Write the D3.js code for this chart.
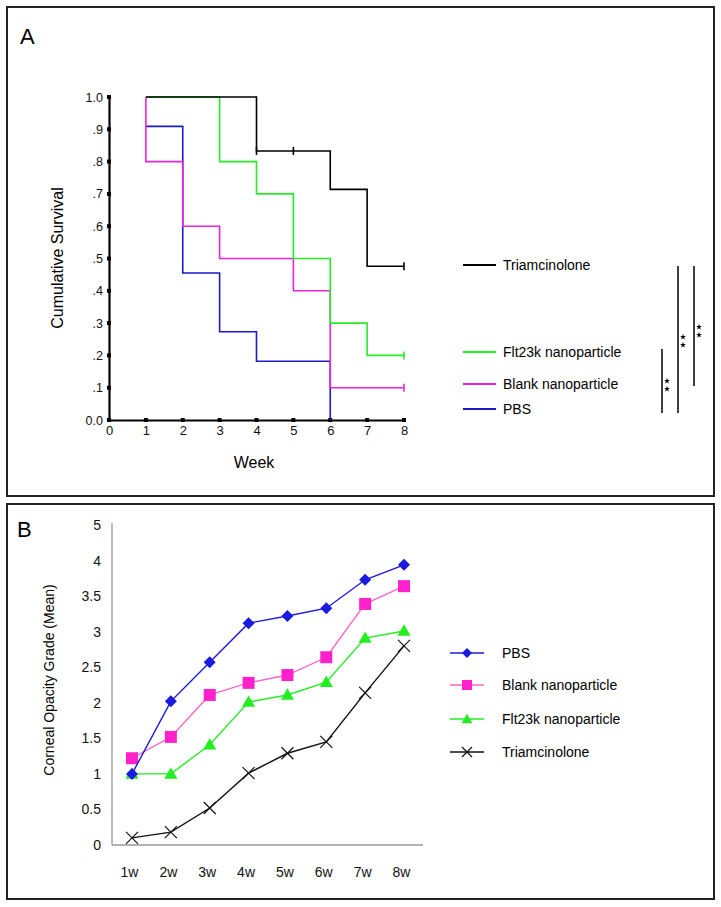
<!DOCTYPE html>
<html><head><meta charset="utf-8">
<script src="https://cdn.jsdelivr.net/npm/d3@7/dist/d3.min.js"></script>
<style>body{margin:0;background:#fff}svg{display:block;font-family:"Liberation Sans",Arial,sans-serif}</style>
</head><body>
<script>
// ---------- Panel A data (Kaplan-Meier steps: [week, survival]) ----------
const kmWeeks = [0,1,2,3,4,5,6,7,8];
const kmYTicks = [0,0.1,0.2,0.3,0.4,0.5,0.6,0.7,0.8,0.9,1.0];
const kmYLabels = ["0.0",".1",".2",".3",".4",".5",".6",".7",".8",".9","1.0"];
const kmTriamcinolone = [[1,1.0],[4,0.833],[6,0.714],[7,0.476],[8,0.476]];
const kmFlt23k = [[1,1.0],[3,0.8],[4,0.7],[5,0.5],[6,0.3],[7,0.2],[8,0.2]];
const kmBlank = [[1,1.0],[1,0.8],[2,0.6],[3,0.5],[5,0.4],[6,0.1],[8,0.1]];
const kmPBS = [[1,0.909],[2,0.455],[3,0.273],[4,0.182],[6,0.0]];
const censorTriam = [[4,0.833],[5,0.833],[8,0.476]];
const censorFlt = [[8,0.2]];
const censorBlank = [[8,0.1]];

// ---------- Panel B data ----------
const weeks = ["1w","2w","3w","4w","5w","6w","7w","8w"];
const opPBS = [1.0,2.02,2.57,3.12,3.22,3.33,3.73,3.94];
const opBlank = [1.22,1.52,2.11,2.28,2.39,2.64,3.39,3.64];
const opFlt = [1.0,1.0,1.41,2.01,2.11,2.29,2.91,3.01];
const opTriam = [0.1,0.18,0.52,1.01,1.29,1.45,2.14,2.80];
const opYTicks = [0,0.5,1,1.5,2,2.5,3,3.5,4,4.5];
const opYLabels = ["0","0.5","1","1.5","2","2.5","3","3.5","4","5"];

const svg = d3.select("body").append("svg").attr("width",721).attr("height",907);

// frames
svg.append("rect").attr("x",7).attr("y",7).attr("width",707).attr("height",489)
  .attr("fill","none").attr("stroke","#222").attr("stroke-width",2);
svg.append("rect").attr("x",7).attr("y",504).attr("width",707).attr("height",395)
  .attr("fill","none").attr("stroke","#222").attr("stroke-width",2);

// ================= Panel A =================
const gA = svg.append("g");
gA.append("text").attr("x",20).attr("y",44).attr("font-size",22).text("A");
const xA = d3.scaleLinear().domain([0,8]).range([109,404]);
const yA = d3.scaleLinear().domain([0,1]).range([420,97]);

const axA = d3.axisBottom(xA).tickValues(kmWeeks).tickFormat(d3.format("d")).tickSize(0).tickPadding(6);
const axAg = gA.append("g").attr("transform","translate(0,420)").call(axA);
axAg.select(".domain").attr("stroke","#000").attr("stroke-width",2.2);
axAg.selectAll("text").attr("font-size",13).attr("font-family","Liberation Sans, Arial").attr("fill","#111");
const ayA = d3.axisLeft(yA).tickValues(kmYTicks).tickFormat((d,i)=>kmYLabels[i]).tickSize(0).tickPadding(6);
const ayAg = gA.append("g").attr("transform","translate(109,0)").call(ayA);
ayAg.select(".domain").attr("stroke","#000").attr("stroke-width",2.2);
ayAg.selectAll("text").attr("font-size",12.5).attr("font-family","Liberation Sans, Arial").attr("fill","#111");
// square tick marks
gA.selectAll("rect.xt").data(kmWeeks).join("rect").attr("x",d=>xA(d)-2).attr("y",418).attr("width",4).attr("height",4).attr("fill","#000");
gA.selectAll("rect.yt").data(kmYTicks).join("rect").attr("x",107).attr("y",d=>yA(d)-2).attr("width",4).attr("height",4).attr("fill","#000");

gA.append("text").attr("x",254).attr("y",468).attr("text-anchor","middle").attr("font-size",16).text("Week");
gA.append("text").attr("transform","translate(63,258) rotate(-90)").attr("text-anchor","middle").attr("font-size",16).text("Cumulative Survival");

const step = d3.line().x(d=>xA(d[0])).y(d=>yA(d[1])).curve(d3.curveStepAfter);
const kmSeries = [
  {d:kmPBS,c:"#1a1ac8"},
  {d:kmBlank,c:"#ee22dd"},
  {d:kmFlt23k,c:"#22ee22"},
  {d:kmTriamcinolone,c:"#000"}
];
kmSeries.forEach(s=>{
  gA.append("path").attr("d",step(s.d)).attr("fill","none").attr("stroke",s.c).attr("stroke-width",1.6);
});
[[censorTriam,"#000"],[censorFlt,"#22ee22"],[censorBlank,"#ee22dd"]].forEach(([pts,c])=>{
  gA.selectAll(null).data(pts).join("line")
    .attr("x1",d=>xA(d[0])).attr("x2",d=>xA(d[0]))
    .attr("y1",d=>yA(d[1])-4).attr("y2",d=>yA(d[1])+4)
    .attr("stroke",c).attr("stroke-width",1.6);
});

// legend A
const legA = [
  {n:"Triamcinolone",c:"#000",y:265},
  {n:"Flt23k nanoparticle",c:"#22ee22",y:352},
  {n:"Blank nanoparticle",c:"#ee22dd",y:384},
  {n:"PBS",c:"#1a1ac8",y:409}
];
legA.forEach(l=>{
  gA.append("line").attr("x1",463).attr("x2",496).attr("y1",l.y).attr("y2",l.y).attr("stroke",l.c).attr("stroke-width",2.2);
  gA.append("text").attr("x",503).attr("y",l.y+5).attr("font-size",14).text(l.n);
});
// significance bars
const sig = [
  {x:662,y1:349,y2:413,sy:385},
  {x:678,y1:266,y2:413,sy:341},
  {x:694,y1:266,y2:386,sy:331}
];
const star = d3.symbol(d3.symbolStar, 11)();
sig.forEach(s=>{
  gA.append("line").attr("x1",s.x).attr("x2",s.x).attr("y1",s.y1).attr("y2",s.y2).attr("stroke","#000").attr("stroke-width",1.5);
  gA.append("path").attr("d",star).attr("transform",`translate(${s.x+5},${s.sy-4})`).attr("fill","#000");
  gA.append("path").attr("d",star).attr("transform",`translate(${s.x+5},${s.sy+4})`).attr("fill","#000");
});

// ================= Panel B =================
const gB = svg.append("g");
gB.append("text").attr("x",17).attr("y",537).attr("font-size",22).text("B");
const xB = d3.scalePoint().domain(weeks).range([132,404]);
const yB = d3.scaleLinear().domain([0,4.5]).range([845,525]);

gB.append("line").attr("x1",112).attr("x2",423).attr("y1",845).attr("y2",845).attr("stroke","#999").attr("stroke-width",1.3);
gB.append("line").attr("x1",112).attr("x2",112).attr("y1",523).attr("y2",845).attr("stroke","#999").attr("stroke-width",1.3);
const ayB = d3.axisLeft(yB).tickValues(opYTicks).tickFormat((d,i)=>opYLabels[i]).tickSize(0).tickPadding(11);
const ayBg = gB.append("g").attr("transform","translate(112,0)").call(ayB);
ayBg.select(".domain").remove();
ayBg.selectAll("text").attr("font-size",14).attr("font-family","Liberation Sans, Arial").attr("fill","#111");
const axB = d3.axisBottom(xB).tickSize(0).tickPadding(22);
const axBg = gB.append("g").attr("transform","translate(-3,845)").call(axB);
axBg.select(".domain").remove();
axBg.selectAll("text").attr("font-size",14).attr("font-family","Liberation Sans, Arial").attr("fill","#111");
gB.append("text").attr("transform","translate(54,680) rotate(-90)").attr("text-anchor","middle").attr("font-size",14).text("Corneal Opacity Grade (Mean)");

const lineB = d3.line().x((d,i)=>xB(weeks[i])).y(d=>yB(d));
const seriesB = [
  {n:"Triamcinolone",v:opTriam,c:"#111",lc:"#111",m:"x"},
  {n:"Flt23k nanoparticle",v:opFlt,c:"#22ee22",lc:"#22ee22",m:"tri"},
  {n:"Blank nanoparticle",v:opBlank,c:"#ff22cc",lc:"#ff66cc",m:"sq"},
  {n:"PBS",v:opPBS,c:"#1a1ae0",lc:"#1a1ae0",m:"dia"}
];
function marker(g,type,x,y,c,scale){
  scale = scale||1;
  const k = Math.sqrt(scale);
  if(type==="dia"){
    const r=6*k;
    g.append("path").attr("d",`M${x},${y-r}L${x+r},${y}L${x},${y+r}L${x-r},${y}Z`).attr("fill",c);
  } else if(type==="sq"){
    const s=12*k;
    g.append("rect").attr("x",x-s/2).attr("y",y-s/2).attr("width",s).attr("height",s).attr("fill",c);
  } else if(type==="tri"){
    g.append("path").attr("d",d3.symbol(d3.symbolTriangle,75*scale)()).attr("transform",`translate(${x},${y+1})`).attr("fill",c);
  } else {
    const s=6*k;
    g.append("path").attr("d",`M${x-s},${y-s}L${x+s},${y+s}M${x-s},${y+s}L${x+s},${y-s}`).attr("stroke",c).attr("stroke-width",1.2).attr("fill","none");
  }
}
seriesB.forEach(s=>{
  gB.append("path").attr("d",lineB(s.v)).attr("fill","none").attr("stroke",s.lc).attr("stroke-width",1.4);
  s.v.forEach((v,i)=>marker(gB,s.m,xB(weeks[i]),yB(v),s.c));
});

// legend B
const legB = [
  {n:"PBS",s:seriesB[3],y:653},
  {n:"Blank nanoparticle",s:seriesB[2],y:685},
  {n:"Flt23k nanoparticle",s:seriesB[1],y:719},
  {n:"Triamcinolone",s:seriesB[0],y:752}
];
legB.forEach(l=>{
  gB.append("line").attr("x1",450).attr("x2",484).attr("y1",l.y).attr("y2",l.y).attr("stroke",l.s.lc).attr("stroke-width",1.6);
  marker(gB,l.s.m,467,l.y,l.s.c,0.7);
  gB.append("text").attr("x",502).attr("y",l.y+5).attr("font-size",14).text(l.n);
});
</script>
</body></html>
